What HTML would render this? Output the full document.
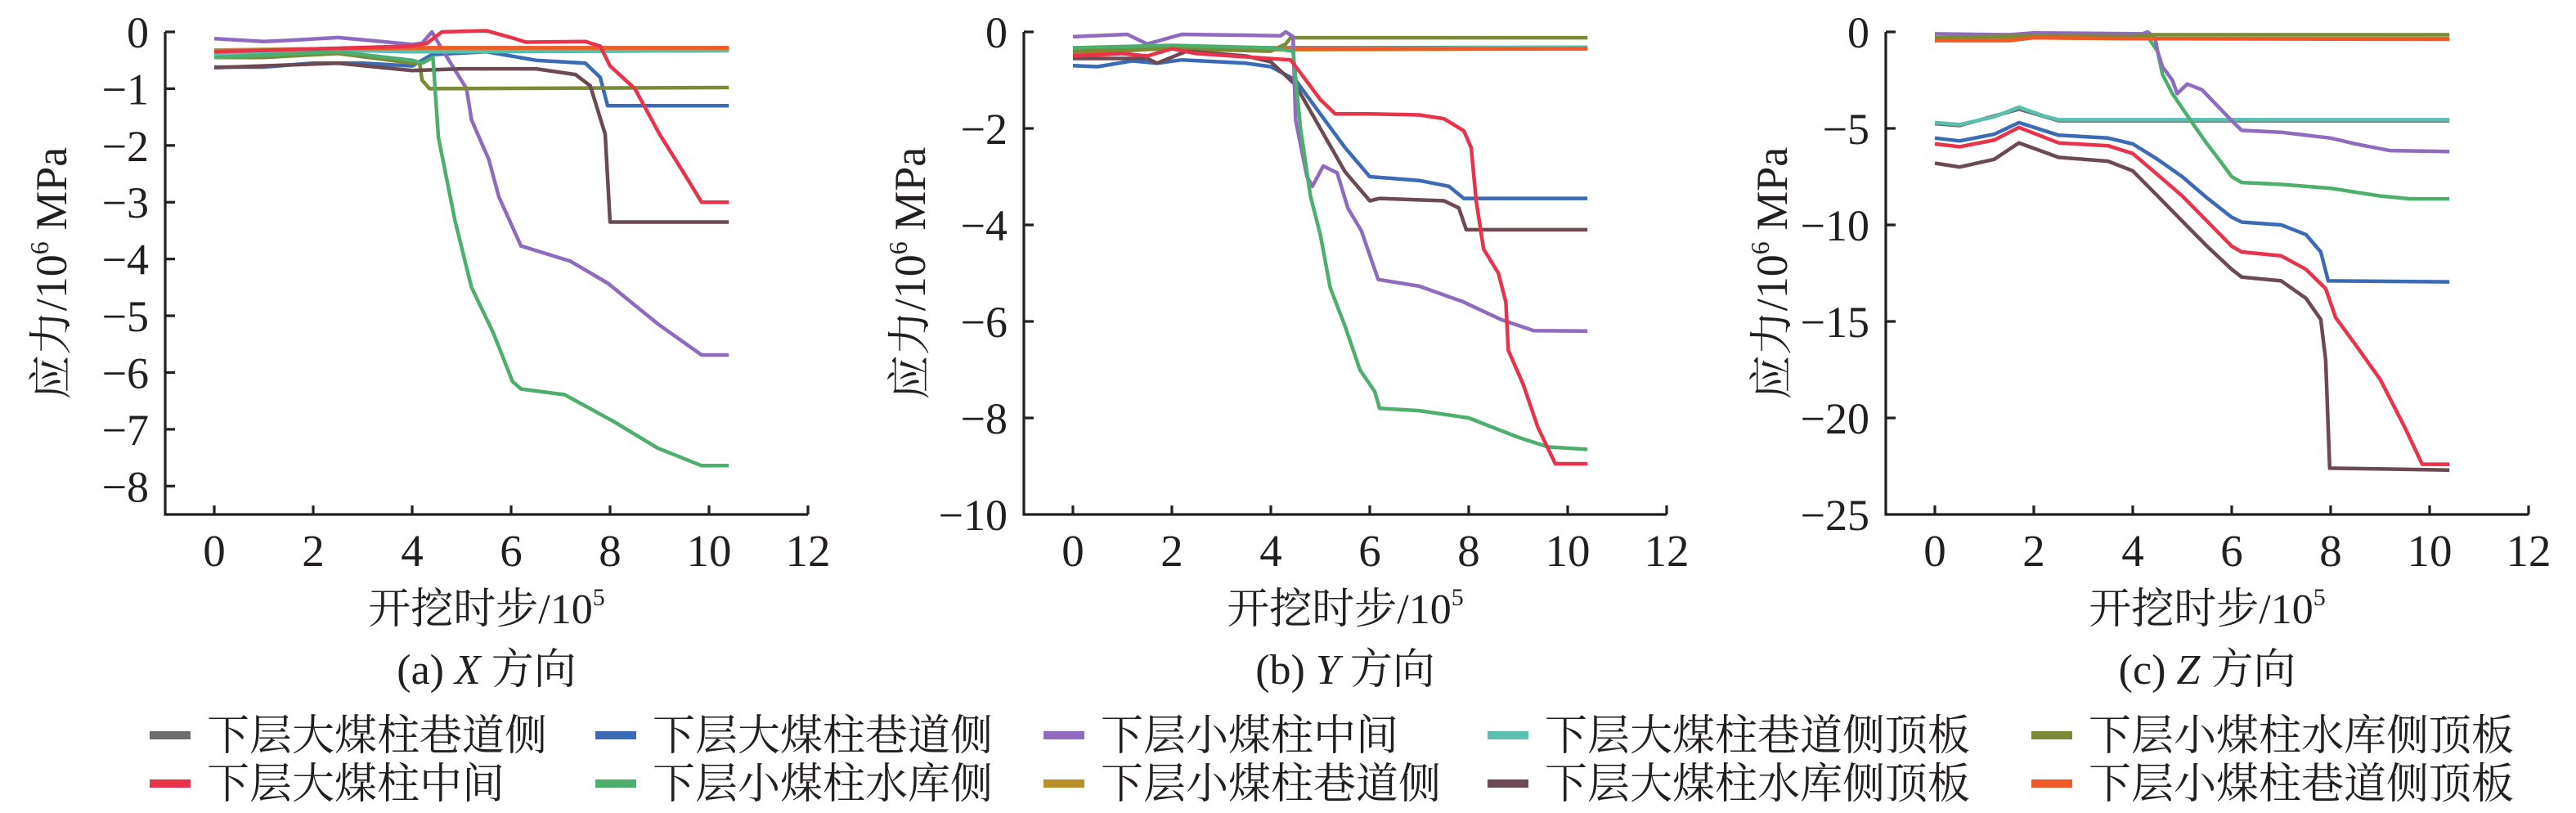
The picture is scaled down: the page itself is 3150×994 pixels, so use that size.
<!DOCTYPE html>
<html><head><meta charset="utf-8">
<style>
html,body{margin:0;padding:0;background:#fff;}
svg{display:block;}
text{font-family:"Liberation Serif","Noto Serif CJK SC",serif;fill:#231f20;}
</style></head>
<body>
<svg id="chart" width="3150" height="994" viewBox="0 0 3150 994" xmlns="http://www.w3.org/2000/svg">
<g id="legend"></g>
</svg>
<script>
const seriesNames = ["下层大煤柱巷道侧","下层大煤柱巷道侧","下层小煤柱中间","下层大煤柱巷道侧顶板","下层小煤柱水库侧顶板","下层大煤柱中间","下层小煤柱水库侧","下层小煤柱巷道侧","下层大煤柱水库侧顶板","下层小煤柱巷道侧顶板"];
const seriesColors = ["#6d6d6d","#3b6bb5","#8e6bbf","#5bbfb0","#7a8a35","#e8334a","#4caf6e","#b8902a","#6b4a52","#f05a28"];
const xTicks = [0,2,4,6,8,10,12];
const yTicksA = [0,-1,-2,-3,-4,-5,-6,-7,-8];
const yTicksB = [0,-2,-4,-6,-8,-10];
const yTicksC = [0,-5,-10,-15,-20,-25];

// Panel A (X direction)
const dataA_gray   = [[0,-0.4],[2.5,-0.32],[4,-0.35],[10.4,-0.33]];
const dataA_blue   = [[0,-0.62],[1,-0.62],[2,-0.55],[3,-0.55],[4,-0.6],[4.4,-0.4],[5.5,-0.35],[6.5,-0.5],[7.5,-0.55],[7.8,-0.8],[7.95,-1.3],[10.4,-1.3]];
const dataA_purple = [[0,-0.12],[1,-0.17],[1.5,-0.15],[2.5,-0.1],[4,-0.22],[4.2,-0.2],[4.4,0],[4.6,-0.3],[5.1,-1.0],[5.2,-1.55],[5.55,-2.25],[5.75,-2.9],[6.2,-3.77],[7.2,-4.04],[7.96,-4.43],[8.96,-5.14],[9.85,-5.69],[10.4,-5.69]];
const dataA_cyan   = [[0,-0.4],[2.5,-0.32],[4,-0.35],[4.5,-0.35],[10.4,-0.33]];
const dataA_olive  = [[0,-0.45],[1,-0.45],[2.5,-0.38],[4,-0.55],[4.15,-0.55],[4.2,-0.85],[4.35,-1.0],[10.4,-0.98]];
const dataA_red    = [[0,-0.35],[4,-0.25],[4.3,-0.2],[4.6,0],[5.5,0.02],[6,-0.1],[6.3,-0.18],[7.5,-0.17],[7.8,-0.25],[8,-0.6],[8.5,-1.0],[9,-1.8],[9.5,-2.5],[9.85,-3.0],[10.4,-3.0]];
const dataA_green  = [[0,-0.45],[2.5,-0.35],[4,-0.5],[4.2,-0.55],[4.42,-0.45],[4.53,-1.86],[4.87,-3.34],[5.2,-4.5],[5.64,-5.3],[6.03,-6.16],[6.2,-6.29],[7.08,-6.39],[8.07,-6.86],[8.96,-7.33],[9.85,-7.64],[10.4,-7.64]];
const dataA_gold   = [[0,-0.32],[2,-0.3],[4,-0.29],[10.4,-0.29]];
const dataA_brown  = [[0,-0.63],[2.5,-0.55],[4,-0.68],[5,-0.65],[6.5,-0.65],[7.3,-0.75],[7.6,-0.95],[7.9,-1.8],[8.0,-3.35],[10.4,-3.35]];
const dataA_orange = [[0,-0.35],[2,-0.3],[4,-0.28],[10.4,-0.28]];

// Panel B (Y direction)
const dataB_gray   = [[0,-0.35],[2,-0.3],[4,-0.33],[10.4,-0.32]];
const dataB_blue   = [[0,-0.7],[0.5,-0.72],[1.2,-0.6],[1.7,-0.65],[2.2,-0.58],[3.5,-0.65],[4.0,-0.72],[4.5,-1.0],[5.0,-1.7],[5.5,-2.4],[6.0,-3.0],[7.0,-3.08],[7.6,-3.2],[7.9,-3.45],[10.4,-3.45]];
const dataB_purple = [[0,-0.1],[1.1,-0.05],[1.5,-0.25],[2.2,-0.05],[4.2,-0.08],[4.3,0],[4.45,-0.1],[4.5,-1.82],[4.73,-3.0],[4.84,-3.2],[5.06,-2.78],[5.34,-2.92],[5.56,-3.66],[5.83,-4.12],[6.17,-5.13],[7.0,-5.27],[7.88,-5.59],[8.65,-5.96],[9.31,-6.19],[10.4,-6.2]];
const dataB_cyan   = [[0,-0.35],[2,-0.3],[4,-0.35],[10.4,-0.32]];
const dataB_olive  = [[0,-0.4],[2,-0.35],[4,-0.4],[4.3,-0.25],[4.4,-0.12],[10.4,-0.12]];
const dataB_red    = [[0,-0.5],[1,-0.45],[1.5,-0.5],[2,-0.35],[2.5,-0.45],[4.4,-0.58],[4.6,-0.85],[5,-1.4],[5.3,-1.7],[6,-1.7],[7,-1.72],[7.5,-1.8],[7.9,-2.05],[8.05,-2.4],[8.15,-3.5],[8.3,-4.5],[8.6,-5.0],[8.75,-5.6],[8.8,-6.6],[9.1,-7.3],[9.4,-8.2],[9.75,-8.95],[10.4,-8.95]];
const dataB_green  = [[0,-0.33],[1.1,-0.3],[2,-0.28],[4,-0.33],[4.45,-0.4],[4.6,-2.0],[4.8,-3.4],[5.0,-4.2],[5.2,-5.3],[5.5,-6.1],[5.8,-7.0],[6.1,-7.45],[6.2,-7.8],[7.0,-7.85],[8.0,-8.0],[9.0,-8.4],[9.6,-8.6],[10.4,-8.65]];
const dataB_gold   = [[0,-0.4],[2,-0.35],[4,-0.37],[10.4,-0.35]];
const dataB_brown  = [[0,-0.55],[1.5,-0.55],[1.7,-0.65],[2.3,-0.4],[3.5,-0.5],[4.0,-0.62],[4.5,-1.1],[5.0,-2.0],[5.5,-2.9],[6.0,-3.5],[6.2,-3.45],[7.5,-3.5],[7.8,-3.65],[7.95,-4.1],[10.4,-4.1]];
const dataB_orange = [[0,-0.45],[1,-0.4],[2,-0.32],[4,-0.35],[10.4,-0.35]];

// Panel C (Z direction)
const dataC_gray   = [[0,-4.75],[0.5,-4.85],[1.7,-4.0],[2.5,-4.6],[10.4,-4.6]];
const dataC_blue   = [[0,-5.5],[0.5,-5.65],[1.2,-5.3],[1.7,-4.7],[2.5,-5.35],[3.5,-5.5],[4.0,-5.8],[4.5,-6.6],[5.0,-7.5],[5.5,-8.6],[6.0,-9.6],[6.2,-9.85],[7.0,-10.0],[7.5,-10.5],[7.8,-11.4],[7.95,-12.9],[10.4,-12.95]];
const dataC_purple = [[0,-0.1],[1.5,-0.15],[2,-0.05],[4.2,-0.1],[4.3,0],[4.45,-0.3],[4.5,-1.0],[4.6,-1.8],[4.8,-2.5],[4.9,-3.2],[5.1,-2.7],[5.4,-3.0],[5.7,-3.8],[6.0,-4.6],[6.2,-5.1],[7.0,-5.2],[8,-5.5],[8.5,-5.8],[9.2,-6.15],[10.4,-6.2]];
const dataC_cyan   = [[0,-4.7],[0.5,-4.8],[1.2,-4.4],[1.7,-3.9],[2.2,-4.35],[2.5,-4.55],[10.4,-4.55]];
const dataC_olive  = [[0,-0.3],[2,-0.2],[4,-0.25],[4.4,-0.15],[10.4,-0.15]];
const dataC_red    = [[0,-5.8],[0.5,-5.95],[1.2,-5.6],[1.7,-4.95],[2.5,-5.75],[3.5,-5.9],[4.0,-6.3],[4.5,-7.4],[5.0,-8.5],[5.5,-9.8],[6.0,-11.1],[6.2,-11.4],[7.0,-11.6],[7.5,-12.3],[7.9,-13.3],[8.1,-14.8],[8.5,-16.2],[9.0,-18.0],[9.5,-20.5],[9.85,-22.4],[10.4,-22.4]];
const dataC_green  = [[0,-0.4],[2,-0.25],[4.3,-0.25],[4.5,-1.0],[4.6,-2.2],[4.8,-3.2],[5.2,-4.7],[5.5,-5.8],[5.8,-6.8],[6.0,-7.5],[6.2,-7.8],[7.0,-7.9],[8.0,-8.1],[9,-8.5],[9.6,-8.65],[10.4,-8.65]];
const dataC_gold   = [[0,-0.4],[2,-0.3],[4,-0.35],[10.4,-0.35]];
const dataC_brown  = [[0,-6.8],[0.5,-7.0],[1.2,-6.6],[1.7,-5.75],[2.5,-6.5],[3.5,-6.7],[4.0,-7.2],[4.5,-8.5],[5.0,-9.8],[5.5,-11.1],[6.0,-12.3],[6.2,-12.7],[7.0,-12.9],[7.5,-13.8],[7.8,-14.9],[7.9,-17.0],[7.98,-22.6],[10.4,-22.7]];
const dataC_orange = [[0,-0.45],[1.5,-0.45],[2,-0.3],[4,-0.35],[10.4,-0.38]];

const NS = "http://www.w3.org/2000/svg";
const svg = document.getElementById("chart");
function mk(tag, attrs, parent){
  const e = document.createElementNS(NS, tag);
  for (const k in attrs) e.setAttribute(k, attrs[k]);
  (parent||svg).appendChild(e);
  return e;
}

const panels = [
  {key:"x", axisX:202, ymin:-8.5, yTicks:yTicksA, label:"(a) ", dir:"X", series:[dataA_gray,dataA_blue,dataA_purple,dataA_cyan,dataA_olive,dataA_gold,dataA_orange,dataA_brown,dataA_red,dataA_green]},
  {key:"y", axisX:1252, ymin:-10, yTicks:yTicksB, label:"(b) ", dir:"Y", series:[dataB_gray,dataB_cyan,dataB_gold,dataB_orange,dataB_olive,dataB_blue,dataB_brown,dataB_purple,dataB_green,dataB_red]},
  {key:"z", axisX:2306, ymin:-25, yTicks:yTicksC, label:"(c) ", dir:"Z", series:[dataC_gray,dataC_cyan,dataC_blue,dataC_red,dataC_brown,dataC_green,dataC_purple,dataC_gold,dataC_olive,dataC_orange]}
];
const colorOrder = {
  x:[0,1,2,3,4,7,9,8,5,6],
  y:[0,3,7,9,4,1,8,2,6,5],
  z:[0,3,1,5,8,6,2,7,4,9]
};

const TOP = 39, BOT = 629, UNIT = 60.5;
panels.forEach(p => {
  const g = mk("g", {});
  
  
  const x0 = p.axisX + 60;
  const xs = v => x0 + v * UNIT;
  const ys = v => TOP + (v / p.ymin) * (BOT - TOP);
  const xEnd = xs(12);
  p.series.forEach((d, i) => {
    const ci = colorOrder[p.key][i];
    const pts = d.map(q => xs(q[0]).toFixed(1) + "," + ys(q[1]).toFixed(1)).join(" ");
    const pl = mk("polyline", {points:pts, fill:"none", stroke:seriesColors[ci], "stroke-width":4.5, "stroke-linejoin":"round"}, g);
    
    
  });
  const ax = mk("path", {d:`M${p.axisX},${TOP} V${BOT} H${xEnd}`, fill:"none", stroke:"#231f20", "stroke-width":3.2}, g);
  
  
  p.yTicks.forEach(t => {
    const y = ys(t);
    if (t !== p.ymin) mk("line", {x1:p.axisX, x2:p.axisX+12, y1:y, y2:y, stroke:"#231f20", "stroke-width":3.2}, g);
    const tx = mk("text", {x:p.axisX-20, y:y+19, "font-size":54, "text-anchor":"end"}, g);
    tx.textContent = (t < 0 ? "\u2212" + (-t) : String(t));
    
    
  });
  xTicks.forEach(t => {
    const x = xs(t);
    mk("line", {x1:x, x2:x, y1:BOT, y2:BOT-11, stroke:"#231f20", "stroke-width":3.2}, g);
    const tx = mk("text", {x:x, y:692, "font-size":55, "text-anchor":"middle"}, g);
    tx.textContent = String(t);
    
    
  });
  const cx = (p.axisX + xEnd) / 2;
  const xt = mk("text", {x:cx, y:762, "font-size":52, "text-anchor":"middle"}, g);
  xt.innerHTML = '开挖时步/10<tspan font-size="30" dy="-22">5</tspan>';
  
  
  const st = mk("text", {x:cx, y:836, "font-size":52, "text-anchor":"middle"}, g);
  st.innerHTML = p.label + '<tspan font-style="italic">' + p.dir + '</tspan> 方向';
  
  
  const yt = mk("text", {x:0, y:0, "font-size":54, "text-anchor":"middle", transform:`translate(${p.axisX-121},${(TOP+BOT)/2}) rotate(-90)`}, g);
  yt.innerHTML = '应力/10<tspan font-size="32" dy="-22">6</tspan><tspan dy="22"> MPa</tspan>';
  
  
});

const legend = document.getElementById("legend");
const colX = [183, 728, 1276, 1819, 2484];
const rowY = [899, 958];
seriesNames.forEach((n, i) => {
  const col = i % 5, row = Math.floor(i / 5);
  const g = mk("g", {}, legend);
  
  
  mk("rect", {x:colX[col], y:rowY[row]-5, width:50, height:10, fill:seriesColors[i]}, g);
  const t = mk("text", {x:colX[col]+70, y:rowY[row]+18, "font-size":52}, g);
  t.textContent = n;
});
</script>
</body></html>
